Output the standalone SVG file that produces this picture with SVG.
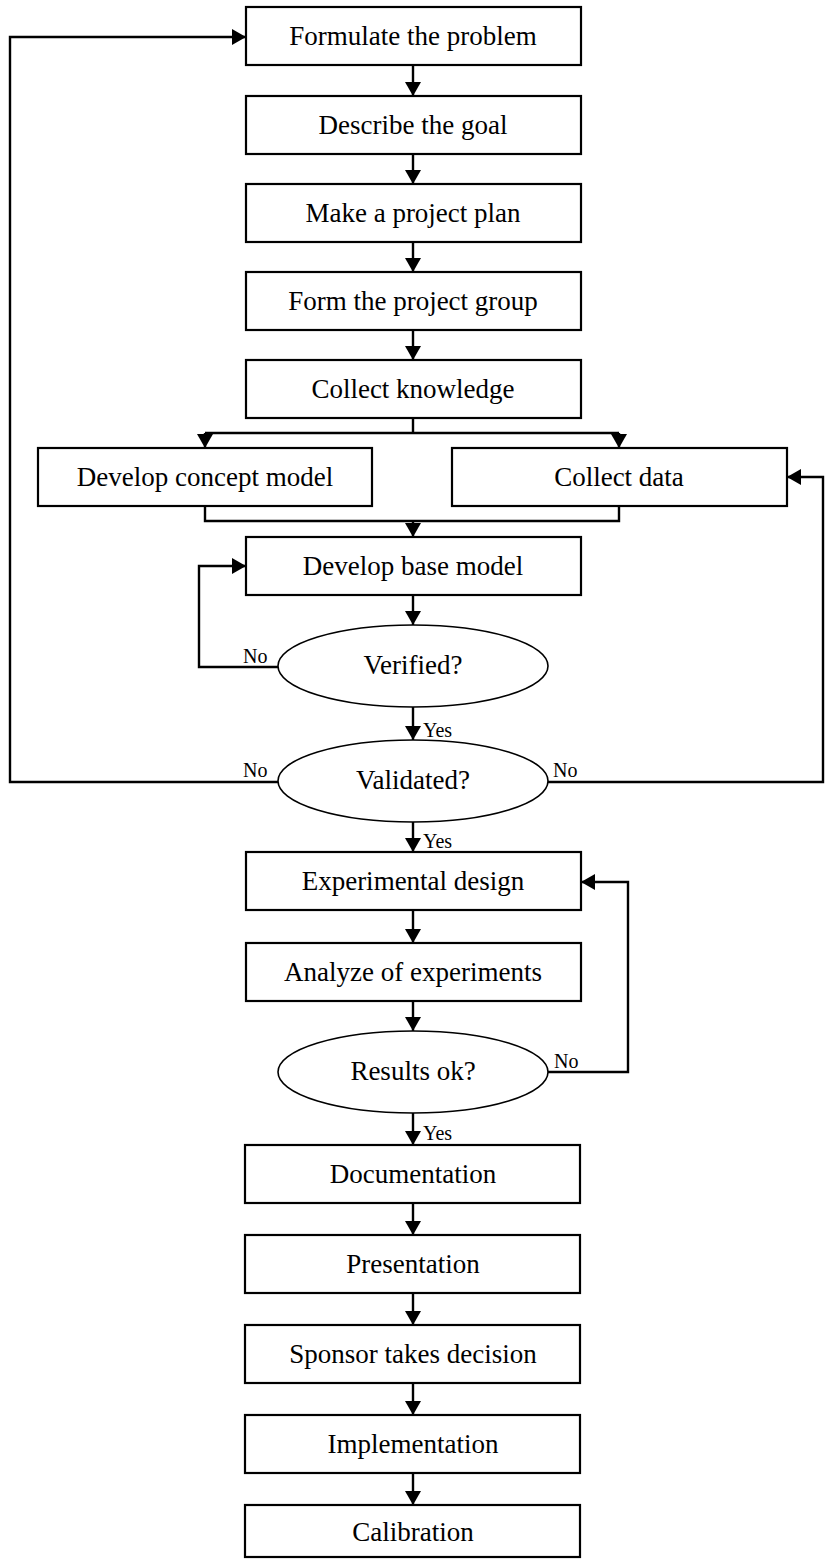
<svg xmlns="http://www.w3.org/2000/svg" width="825" height="1560" viewBox="0 0 825 1560">
<style>
.box{fill:#fff;stroke:#000;stroke-width:2.2}
.ell{fill:#fff;stroke:#000;stroke-width:1.6}
.t{font-family:"Liberation Serif","Times New Roman",serif;font-size:27px;fill:#000;text-anchor:middle}
.s{font-family:"Liberation Serif","Times New Roman",serif;font-size:20px;fill:#000}
.c{fill:none;stroke:#000;stroke-width:2.4}
</style>
<defs>
<marker id="ah" markerUnits="userSpaceOnUse" markerWidth="15" markerHeight="17" refX="14" refY="8" orient="auto">
<path d="M0,0 L14,8 L0,16 z" fill="#000"/>
</marker>
</defs>
<rect width="825" height="1560" fill="#fff"/>
<g id="connectors">
<path class="c" d="M413,65 V96" marker-end="url(#ah)"/>
<path class="c" d="M413,154 V184" marker-end="url(#ah)"/>
<path class="c" d="M413,242 V272" marker-end="url(#ah)"/>
<path class="c" d="M413,330 V360" marker-end="url(#ah)"/>
<path class="c" d="M413,418 V433 M205,433 H619"/>
<path class="c" d="M205,433 V448" marker-end="url(#ah)"/>
<path class="c" d="M619,433 V448" marker-end="url(#ah)"/>
<path class="c" d="M205,506 V521 H619 V506"/>
<path class="c" d="M413,521 V537" marker-end="url(#ah)"/>
<path class="c" d="M413,595 V625" marker-end="url(#ah)"/>
<path class="c" d="M278,667 H199 V566 H246" marker-end="url(#ah)"/>
<path class="c" d="M413,707 V740" marker-end="url(#ah)"/>
<path class="c" d="M278,782 H10 V37 H246" marker-end="url(#ah)"/>
<path class="c" d="M548,782 H823 V477 H787" marker-end="url(#ah)"/>
<path class="c" d="M413,822 V852" marker-end="url(#ah)"/>
<path class="c" d="M413,910 V943" marker-end="url(#ah)"/>
<path class="c" d="M413,1001 V1031" marker-end="url(#ah)"/>
<path class="c" d="M548,1072 H628 V882 H581" marker-end="url(#ah)"/>
<path class="c" d="M413,1113 V1145" marker-end="url(#ah)"/>
<path class="c" d="M413,1203 V1235" marker-end="url(#ah)"/>
<path class="c" d="M413,1293 V1325" marker-end="url(#ah)"/>
<path class="c" d="M413,1383 V1415" marker-end="url(#ah)"/>
<path class="c" d="M413,1473 V1505" marker-end="url(#ah)"/>
<text class="s" x="243" y="663">No</text>
<text class="s" x="423" y="737">Yes</text>
<text class="s" x="243" y="777">No</text>
<text class="s" x="553" y="777">No</text>
<text class="s" x="423" y="848">Yes</text>
<text class="s" x="554" y="1068">No</text>
<text class="s" x="423" y="1140">Yes</text>
</g>
<g id="n1"><rect class="box" x="246" y="7" width="335" height="58"/><text class="t" x="413" y="45">Formulate the problem</text></g>
<g id="n2"><rect class="box" x="246" y="96" width="335" height="58"/><text class="t" x="413" y="134">Describe the goal</text></g>
<g id="n3"><rect class="box" x="246" y="184" width="335" height="58"/><text class="t" x="413" y="222">Make a project plan</text></g>
<g id="n4"><rect class="box" x="246" y="272" width="335" height="58"/><text class="t" x="413" y="310">Form the project group</text></g>
<g id="n5"><rect class="box" x="246" y="360" width="335" height="58"/><text class="t" x="413" y="398">Collect knowledge</text></g>
<g id="n6"><rect class="box" x="38" y="448" width="334" height="58"/><text class="t" x="205" y="486">Develop concept model</text></g>
<g id="n7"><rect class="box" x="452" y="448" width="335" height="58"/><text class="t" x="619" y="486">Collect data</text></g>
<g id="n8"><rect class="box" x="246" y="537" width="335" height="58"/><text class="t" x="413" y="575">Develop base model</text></g>
<g id="n9"><ellipse class="ell" cx="413" cy="666" rx="135" ry="41"/><text class="t" x="413" y="674">Verified?</text></g>
<g id="n10"><ellipse class="ell" cx="413" cy="781" rx="135" ry="41"/><text class="t" x="413" y="789">Validated?</text></g>
<g id="n11"><rect class="box" x="246" y="852" width="335" height="58"/><text class="t" x="413" y="890">Experimental design</text></g>
<g id="n12"><rect class="box" x="246" y="943" width="335" height="58"/><text class="t" x="413" y="981">Analyze of experiments</text></g>
<g id="n13"><ellipse class="ell" cx="413" cy="1072" rx="135" ry="41"/><text class="t" x="413" y="1080">Results ok?</text></g>
<g id="n14"><rect class="box" x="245" y="1145" width="335" height="58"/><text class="t" x="413" y="1183">Documentation</text></g>
<g id="n15"><rect class="box" x="245" y="1235" width="335" height="58"/><text class="t" x="413" y="1273">Presentation</text></g>
<g id="n16"><rect class="box" x="245" y="1325" width="335" height="58"/><text class="t" x="413" y="1363">Sponsor takes decision</text></g>
<g id="n17"><rect class="box" x="245" y="1415" width="335" height="58"/><text class="t" x="413" y="1453">Implementation</text></g>
<g id="n18"><rect class="box" x="245" y="1505" width="335" height="52"/><text class="t" x="413" y="1541">Calibration</text></g>
</svg>
